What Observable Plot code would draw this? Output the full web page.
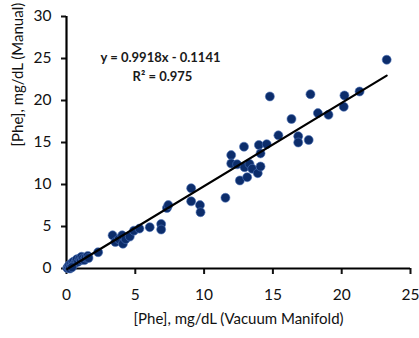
<!DOCTYPE html>
<html>
<head>
<meta charset="utf-8">
<script src="https://cdn.jsdelivr.net/npm/d3@7"></script>
<script src="https://cdn.jsdelivr.net/npm/@observablehq/plot@0.6"></script>
<style>
  html, body { margin: 0; padding: 0; background: #fff; }
  #chart svg { display: block; }
</style>
</head>
<body>
<div id="chart"></div>
<script>
const vacuumManifold = [
  0.05, 0.1, 0.15, 0.2, 0.3, 0.35, 0.45, 0.5, 0.6, 0.7, 0.75, 0.85, 0.95, 1.05, 1.1, 1.2, 1.3, 1.4, 1.55, 1.6, 0.25, 0.4,
  2.3, 3.35, 3.55, 3.8, 4.05, 4.1, 4.3, 4.6, 4.9, 5.3, 6.05, 6.88, 6.88, 7.3, 7.4,
  9.06, 9.06, 9.7, 9.74, 11.55, 11.97, 11.97, 12.4, 12.6, 12.9, 12.94, 13.13, 13.3, 13.5, 13.9,
  13.98, 14.1, 14.1, 14.55, 14.78, 15.4, 16.35, 16.84, 16.84, 17.6, 17.73, 18.27, 19.04, 20.15, 20.2, 21.3, 23.27
];
const manual = [
  0.05, 0.2, 0.1, 0.4, 0.3, 0.6, 0.5, 0.8, 0.6, 0.9, 1.1, 0.8, 1.2, 1.0, 1.4, 1.2, 1.0, 1.3, 1.5, 1.25, 0.0, 0.15,
  1.94, 3.95, 3.15, 3.5, 3.95, 2.95, 3.5, 3.8, 4.5, 4.75, 4.92, 5.3, 4.64, 7.2, 7.55,
  9.56, 8.0, 7.55, 6.7, 8.42, 13.5, 12.5, 12.4, 10.48, 14.5, 12.06, 10.87, 12.45, 11.87, 11.35,
  14.7, 13.7, 12.14, 14.8, 20.48, 15.85, 17.8, 15.75, 15.0, 15.3, 20.75, 18.5, 18.3, 19.25, 20.6, 21.07, 24.85
];
// Trendline reported in the reference
const slope = 0.9918;
const intercept = -0.1141;
const rSquared = 0.975;

const xTicks = [0, 5, 10, 15, 20, 25];
const yTicks = [0, 5, 10, 15, 20, 25, 30];
const xLabel = "[Phe], mg/dL (Vacuum Manifold)";
const yLabel = "[Phe], mg/dL (Manual)";
const eqLabel = `y = ${slope}x - ${Math.abs(intercept)}`;
const r2Label = `R\u00B2 = ${rSquared}`;

const points = vacuumManifold.map((x, i) => ({x, y: manual[i]}));
const [xMin, xMax] = d3.extent(vacuumManifold);
const fitLine = [xMin, xMax].map(x => ({x, y: slope * x + intercept}));

const font = "Lato, 'Open Sans', sans-serif";

const chart = Plot.plot({
  width: 419,
  height: 338,
  marginLeft: 66,
  marginTop: 16,
  marginBottom: 70,
  marginRight: 9,
  style: {fontFamily: font, background: "#fff", color: "#111"},
  x: {domain: [0, 25], ticks: xTicks},
  y: {domain: [0, 30], ticks: yTicks},
  marks: [
    Plot.axisX({ticks: xTicks, tickSize: 6, tickPadding: 14, strokeWidth: 2, fontSize: 15.5, label: null, tickFormat: d => d}),
    Plot.axisY({ticks: yTicks, tickSize: 5, tickPadding: 10, strokeWidth: 2, fontSize: 15.5, label: null, tickFormat: d => d}),
    Plot.ruleY([0], {stroke: "#000", strokeWidth: 2.2}),
    Plot.ruleX([0], {stroke: "#000", strokeWidth: 2.2}),
    Plot.dot(points, {x: "x", y: "y", r: 4.5, fill: "#0c2d6b", stroke: "#4f74b8", strokeWidth: 0.6}),
    Plot.line(fitLine, {x: "x", y: "y", stroke: "#000", strokeWidth: 2.2}),
    Plot.text([eqLabel], {frameAnchor: "top-left", dx: 94, dy: 36, fontSize: 13, fontWeight: "bold", fill: "#1a1a1a", textAnchor: "middle"}),
    Plot.text([r2Label], {frameAnchor: "top-left", dx: 96, dy: 55, fontSize: 13, fontWeight: "bold", fill: "#1a1a1a", textAnchor: "middle"}),
    Plot.text([xLabel], {frameAnchor: "bottom", dy: 55, fontSize: 15, fill: "#111"}),
    Plot.text([yLabel], {frameAnchor: "left", dx: -48, dy: 4, rotate: -90, fontSize: 15, fill: "#111"})
  ]
});
document.getElementById("chart").appendChild(chart);
</script>
</body>
</html>
